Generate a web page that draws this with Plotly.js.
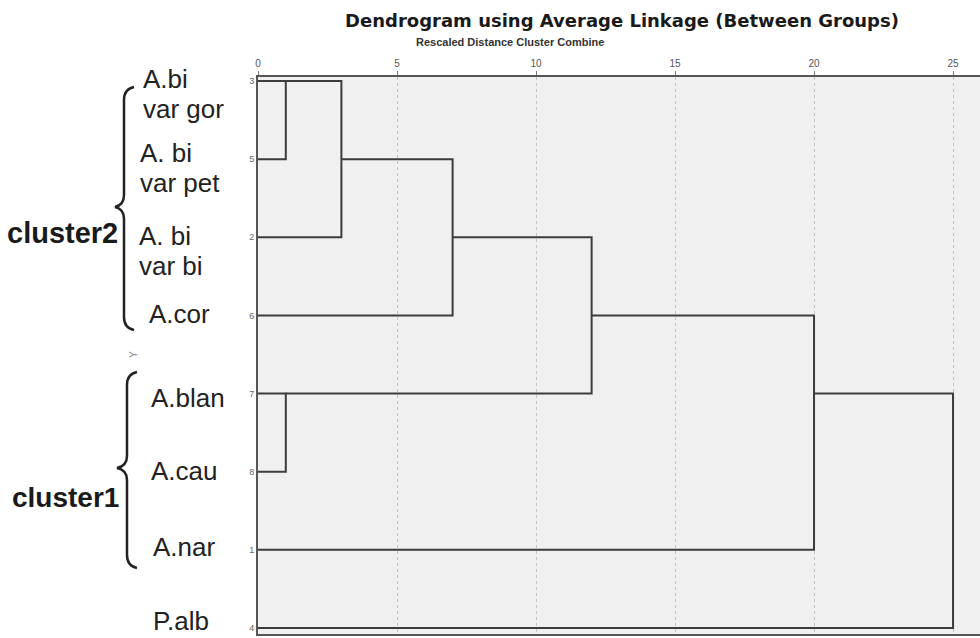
<!DOCTYPE html>
<html>
<head>
<meta charset="utf-8">
<script src="https://cdn.plot.ly/plotly-3.0.1.min.js"></script>
<style>html,body{margin:0;padding:0;background:#fff;}#chart{width:980px;height:638px;}</style>
</head>
<body>
<div id="chart"></div>
<script>
// ---- data ----
const caseNumbers = ['3', '5', '2', '6', '7', '8', '1', '4'];           // row order (top to bottom)
const speciesNames = [['A.bi', 'var gor'], ['A. bi', 'var pet'], ['A. bi', 'var bi'], ['A.cor'],
                      ['A.blan'], ['A.cau'], ['A.nar'], ['P.alb']];
// agglomeration schedule (by representative row index)
const mergeFirst  = [0, 4, 0, 0, 0, 0, 0];
const mergeSecond = [1, 5, 2, 3, 4, 6, 7];
const mergeDistance = [1, 1, 3, 7, 12, 20, 25];
const distanceTicks = [0, 5, 10, 15, 20, 25];
const clusterNames = ['cluster2', 'cluster1'];

// ---- build dendrogram segments ----
const pos = caseNumbers.map((_, i) => i);
const hgt = caseNumbers.map(() => 0);
const sx = [], sy = [];
for (let k = 0; k < mergeDistance.length; k++) {
  const a = mergeFirst[k], b = mergeSecond[k], d = mergeDistance[k];
  const ya = pos[a], yb = pos[b];
  sx.push(hgt[a], d, d, hgt[b], null);
  sy.push(ya, ya, yb, yb, null);
  pos[a] = Math.floor((ya + yb) / 2);
  hgt[a] = d;
}

// ---- pixel helpers for decoration ----
const L = 258, T = 77, R = 980, B = 634;
const px = x => (x - L) / (R - L);
const py = y => (B - y) / (B - T);

const trace = {
  x: sx, y: sy, type: 'scatter', mode: 'lines',
  line: {color: '#3c3c3c', width: 2}, hoverinfo: 'skip', showlegend: false
};

// label layout: first-line baseline, x start, line gap (pixels)
const labelBase = [88, 162, 245, 323, 407, 480, 556, 630];
const labelX = [141, 138, 137, 147, 149, 149, 151, 151];
const lineGap = 29.5;
const labelSize = 26;
const annotations = [];
speciesNames.forEach((lines, i) => {
  lines.forEach((t, j) => {
    annotations.push({
      text: t, xref: 'paper', yref: 'paper', x: px(labelX[i]),
      y: py(labelBase[i] + j * lineGap - 0.33 * labelSize),
      xanchor: 'left', yanchor: 'middle', align: 'left', showarrow: false,
      font: {family: 'Liberation Sans, Arial, sans-serif', size: labelSize, color: '#222'}
    });
  });
});
annotations.push({
  text: clusterNames[0], xref: 'paper', yref: 'paper', x: px(120), y: py(233),
  xanchor: 'right', yanchor: 'middle', showarrow: false,
  font: {family: 'Liberation Sans, Arial, sans-serif', size: 29, color: '#1a1a1a', weight: 'bold'}
});
annotations.push({
  text: clusterNames[1], xref: 'paper', yref: 'paper', x: px(121), y: py(497),
  xanchor: 'right', yanchor: 'middle', showarrow: false,
  font: {family: 'Liberation Sans, Arial, sans-serif', size: 28, color: '#1a1a1a', weight: 'bold'}
});
annotations.push({
  text: 'Y', xref: 'paper', yref: 'paper', x: px(133), y: py(355), textangle: -90,
  xanchor: 'center', yanchor: 'middle', showarrow: false,
  font: {family: 'Liberation Sans, Arial, sans-serif', size: 10, color: '#888'}
});
annotations.push({
  text: '<b>Rescaled Distance Cluster Combine</b>', xref: 'paper', yref: 'paper',
  x: px(510), y: py(42), xanchor: 'center', yanchor: 'middle', showarrow: false,
  font: {family: 'Liberation Sans Narrow, Liberation Sans, Arial, sans-serif', size: 11, color: '#333'}
});

function brace(top, tip, bottom, spine, ends, tipX) {
  const P = (x, y) => px(x) + ',' + py(y);
  return 'M ' + P(ends, top) + ' Q ' + P(spine, top + 2) + ' ' + P(spine, top + 13) +
    ' L ' + P(spine, tip - 12) + ' Q ' + P(spine, tip - 2) + ' ' + P(tipX, tip) +
    ' Q ' + P(spine, tip + 2) + ' ' + P(spine, tip + 12) +
    ' L ' + P(spine, bottom - 13) + ' Q ' + P(spine, bottom - 2) + ' ' + P(ends, bottom);
}
const shapes = [
  {type: 'path', xref: 'paper', yref: 'paper', path: brace(87, 207, 330, 124, 134, 115),
   line: {color: '#222', width: 2.5}},
  {type: 'path', xref: 'paper', yref: 'paper', path: brace(372, 468, 568, 127, 137, 117),
   line: {color: '#222', width: 2.5}}
];

const layout = {
  width: 980, height: 638,
  margin: {l: L, r: 980 - R, t: T, b: 638 - B},
  paper_bgcolor: '#ffffff', plot_bgcolor: '#f0f0f0',
  title: {
    text: '<b>Dendrogram using Average Linkage (Between Groups)</b>',
    x: 622 / 980, xanchor: 'center', xref: 'container',
    y: 1 - 21 / 638, yanchor: 'middle', yref: 'container',
    font: {family: 'DejaVu Sans, Liberation Sans, Arial, sans-serif', size: 18, color: '#1a1a1a'}
  },
  xaxis: {
    range: [0, 25.97], side: 'top', tickvals: distanceTicks,
    ticks: 'outside', ticklen: 4, tickcolor: '#777', tickwidth: 1,
    tickfont: {family: 'Liberation Sans, Arial, sans-serif', size: 10, color: '#555'},
    showline: true, linecolor: '#555', linewidth: 2, mirror: true,
    showgrid: true, gridcolor: '#c4c4c4', griddash: 'dot', gridwidth: 1,
    zeroline: false, fixedrange: true
  },
  yaxis: {
    range: [7.077, -0.051], tickvals: caseNumbers.map((_, i) => i), ticktext: caseNumbers,
    ticks: '', tickfont: {family: 'Liberation Sans, Arial, sans-serif', size: 9, color: '#666'},
    showline: true, linecolor: '#555', linewidth: 2,
    showgrid: false, zeroline: false, fixedrange: true
  },
  annotations: annotations, shapes: shapes
};

Plotly.newPlot('chart', [trace], layout, {displayModeBar: false, staticPlot: true});
</script>
</body>
</html>
